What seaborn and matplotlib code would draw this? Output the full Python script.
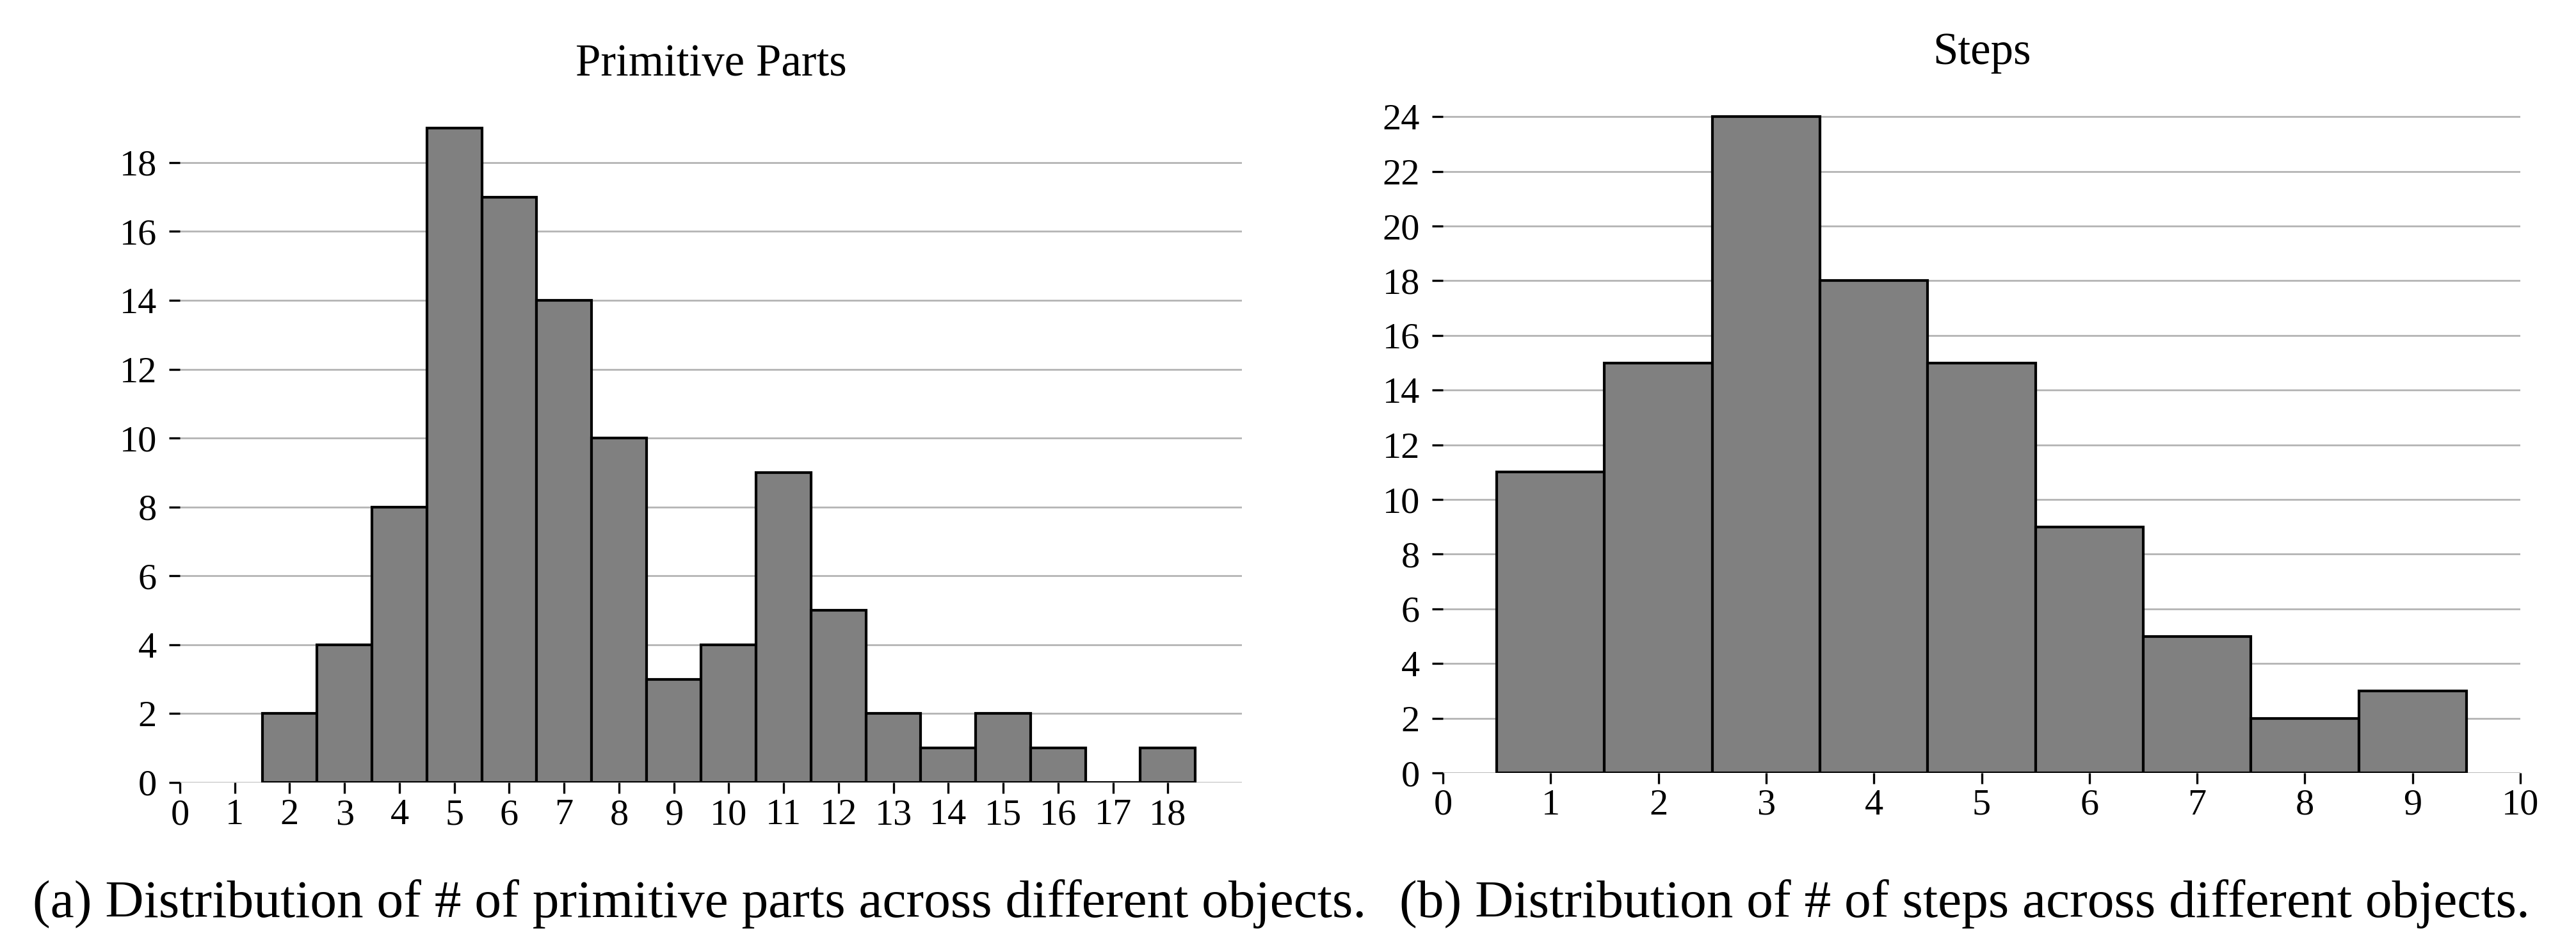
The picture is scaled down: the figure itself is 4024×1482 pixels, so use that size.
import matplotlib
matplotlib.use("Agg")
import matplotlib.pyplot as plt
import seaborn as sns

# -------------------------------
# Data
# -------------------------------
part_values = [2, 3, 4, 5, 6, 7, 8, 9, 10, 11, 12, 13, 14, 15, 16, 17, 18]
part_counts = [2, 4, 8, 19, 17, 14, 10, 3, 4, 9, 5, 2, 1, 2, 1, 0, 1]

step_values = [1, 2, 3, 4, 5, 6, 7, 8, 9]
step_counts = [11, 15, 24, 18, 15, 9, 5, 2, 3]

part_xticks = list(range(0, 19))
part_yticks = list(range(0, 19, 2))
step_xticks = list(range(0, 11))
step_yticks = list(range(0, 25, 2))

title_a = "Primitive Parts"
title_b = "Steps"
caption_a = "(a) Distribution of # of primitive parts across different objects."
caption_b = "(b) Distribution of # of steps across different objects."

# -------------------------------
# Style
# -------------------------------
sns.set_theme(style="ticks")
plt.rcParams["font.family"] = ["Liberation Serif", "DejaVu Serif"]

W, H = 4024, 1482
fig = plt.figure(figsize=(W / 200, H / 200), dpi=200)

ax1 = fig.add_axes([281 / W, (H - 1222) / H, (1940 - 281) / W, (1222 - 149) / H])
ax2 = fig.add_axes([2254 / W, (H - 1207) / H, (3937 - 2254) / W, (1207 - 131) / H])


def draw_hist(ax, values, counts, xticks, yticks, xlim, ylim, title):
    sns.histplot(x=values, weights=counts, discrete=True, color="#808080",
                 edgecolor="black", linewidth=1.5, alpha=1, ax=ax)
    ax.set_xlim(*xlim)
    ax.set_ylim(*ylim)
    ax.set_xticks(xticks)
    ax.set_yticks(yticks)
    ax.set_xlabel("")
    ax.set_ylabel("")
    ax.yaxis.grid(True, color="#b4b4b4", linewidth=1.0)
    ax.xaxis.grid(False)
    ax.set_axisbelow(True)
    for s in ax.spines.values():
        s.set_visible(False)
    ax.tick_params(axis="both", length=6, width=1.2, labelsize=21,
                   color="black", labelcolor="black")
    ax.tick_params(axis="x", pad=3)
    ax.tick_params(axis="y", pad=7)
    ax.set_title(title, fontsize=25.5, pad=11, color="black")


draw_hist(ax1, part_values, part_counts, part_xticks, part_yticks,
          (0, 19.35), (0, 19.95), title_a)
draw_hist(ax2, step_values, step_counts, step_xticks, step_yticks,
          (0, 10), (0, 25.2), title_b)

# -------------------------------
# Sub-captions
# -------------------------------
fig.text(1093 / W, 1 - 1432 / H, caption_a, ha="center", va="baseline",
         fontsize=30, color="black")
fig.text(3069 / W, 1 - 1432 / H, caption_b, ha="center", va="baseline",
         fontsize=30, color="black")

fig.savefig("out.png", dpi=200, facecolor="white")
